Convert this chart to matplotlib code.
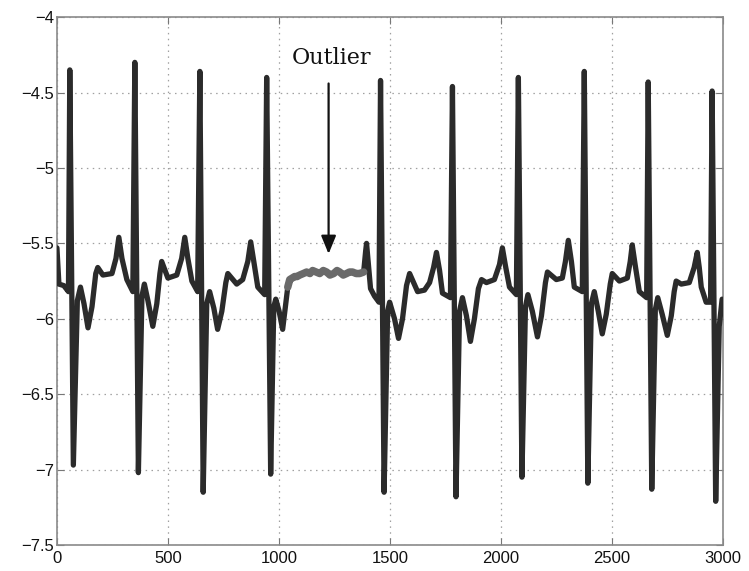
import matplotlib
matplotlib.use("Agg")
import matplotlib.pyplot as plt

# ECG-like signal (dark trace, before the outlier)
sig_x1 = [0, 9, 31, 52, 58, 74, 92, 106, 122, 140, 158, 175, 184, 207, 248, 266, 279, 293, 315, 342,
          351, 367, 383, 394, 410, 432, 450, 464, 472, 500, 540, 562, 576, 590, 608, 634,
          644, 659, 675, 688, 707, 724, 743, 761, 770, 810, 837, 860, 873, 887, 905, 936,
          945, 963, 977, 986, 1001, 1017, 1031, 1040]
sig_y1 = [-5.53, -5.77, -5.78, -5.82, -4.35, -6.97, -5.88, -5.79, -5.90, -6.06, -5.92, -5.70, -5.66, -5.71, -5.70, -5.60, -5.46, -5.60, -5.74, -5.82,
          -4.30, -7.02, -5.85, -5.77, -5.88, -6.05, -5.90, -5.70, -5.62, -5.73, -5.71, -5.60, -5.46, -5.60, -5.75, -5.82,
          -4.36, -7.15, -5.90, -5.82, -5.93, -6.07, -5.95, -5.76, -5.70, -5.77, -5.74, -5.62, -5.49, -5.62, -5.79, -5.84,
          -4.40, -7.03, -5.92, -5.87, -5.95, -6.07, -5.90, -5.79]

# Outlier segment (grey)
out_x = [1040, 1049, 1060, 1071, 1082, 1094, 1110, 1125, 1140, 1152, 1168, 1184, 1200, 1215,
         1230, 1247, 1262, 1274, 1290, 1305, 1318, 1332, 1348, 1364, 1382]
out_y = [-5.79, -5.74, -5.73, -5.72, -5.72, -5.71, -5.70, -5.69, -5.70, -5.68, -5.69, -5.70, -5.68, -5.69,
         -5.71, -5.70, -5.68, -5.69, -5.71, -5.70, -5.69, -5.69, -5.70, -5.70, -5.69]

# ECG-like signal after the outlier
sig_x2 = [1382, 1391, 1395, 1404, 1413, 1431, 1451,
          1458, 1474, 1490, 1499, 1521, 1539, 1557, 1575, 1589, 1625, 1656, 1679, 1697, 1710, 1724, 1737, 1773,
          1782, 1798, 1814, 1827, 1845, 1863, 1881, 1899, 1913, 1935, 1971, 1994, 2007, 2021, 2039, 2070,
          2079, 2095, 2111, 2122, 2142, 2165, 2183, 2201, 2210, 2250, 2277, 2291, 2304, 2318, 2331, 2367,
          2376, 2392, 2408, 2421, 2439, 2457, 2475, 2493, 2502, 2534, 2570, 2583, 2592, 2606, 2624, 2657,
          2664, 2680, 2696, 2707, 2727, 2750, 2768, 2781, 2790, 2813, 2849, 2871, 2885, 2894, 2903, 2925, 2945,
          2952, 2968, 2984, 2997]
sig_y2 = [-5.69, -5.55, -5.50, -5.65, -5.80, -5.85, -5.89,
          -4.42, -7.15, -5.95, -5.89, -6.00, -6.13, -6.00, -5.78, -5.70, -5.82, -5.81, -5.76, -5.66, -5.56, -5.68, -5.83, -5.86,
          -4.46, -7.18, -5.95, -5.86, -5.98, -6.15, -6.00, -5.80, -5.74, -5.76, -5.74, -5.64, -5.53, -5.65, -5.79, -5.84,
          -4.40, -7.05, -5.92, -5.84, -5.95, -6.12, -5.98, -5.76, -5.69, -5.74, -5.73, -5.62, -5.48, -5.62, -5.79, -5.82,
          -4.36, -7.09, -5.90, -5.82, -5.95, -6.10, -5.97, -5.77, -5.70, -5.75, -5.73, -5.62, -5.51, -5.65, -5.82, -5.86,
          -4.43, -7.13, -5.94, -5.86, -5.97, -6.11, -5.98, -5.82, -5.75, -5.77, -5.76, -5.66, -5.56, -5.66, -5.79, -5.89, -5.89,
          -4.49, -7.21, -6.05, -5.87]

x_ticks = [0, 500, 1000, 1500, 2000, 2500, 3000]
y_ticks = [-7.5, -7, -6.5, -6, -5.5, -5, -4.5, -4]
y_tick_labels = ["\u22127.5", "\u22127", "\u22126.5", "\u22126", "\u22125.5", "\u22125", "\u22124.5", "\u22124"]

annot_text = "Outlier"
annot_x = 1224
annot_text_y = -4.27
annot_tail_y = -4.44
annot_tip_y = -5.57

plt.rcParams['font.family'] = ['Liberation Sans', 'DejaVu Sans']

fig = plt.figure(figsize=(7.49, 5.71), dpi=100)
ax = fig.add_axes([0.076, 0.0455, 0.889, 0.9245])

line_col = "#2b2b2b"
kw = dict(solid_joinstyle='round', solid_capstyle='round', zorder=3)
ax.plot(sig_x1, sig_y1, color=line_col, lw=3.8, **kw)
ax.plot(sig_x2, sig_y2, color=line_col, lw=3.8, **kw)
ax.plot(out_x, out_y, color="#6a6a6a", lw=5.4, **kw)

ax.set_xlim(0, 3000)
ax.set_ylim(-7.5, -4)
ax.set_xticks(x_ticks)
ax.set_yticks(y_ticks)
ax.set_yticklabels(y_tick_labels)
ax.tick_params(direction='in', top=True, right=True, length=5, width=0.8,
               color="#777777", labelsize=12, labelcolor="#111111")
ax.tick_params(axis='x', pad=4)
ax.tick_params(axis='y', pad=2)
for s in ax.spines.values():
    s.set_color("#8a8a8a")
    s.set_linewidth(1.2)
ax.grid(True, color="#a0a0a0", linestyle=(0, (1.2, 3.5)), linewidth=0.9)
ax.set_axisbelow(True)

ax.annotate("", xy=(annot_x, annot_tip_y), xytext=(annot_x, annot_tail_y),
            arrowprops=dict(arrowstyle="-|>,head_length=1.1,head_width=0.45",
                            color="#111111", lw=1.6, shrinkA=0, shrinkB=0), zorder=5)
ax.text(annot_x + 15, annot_text_y, annot_text, ha='center', va='center',
        fontsize=16, family=['DejaVu Serif'], color="#111111", zorder=5)

fig.savefig("out.png", dpi=100)
